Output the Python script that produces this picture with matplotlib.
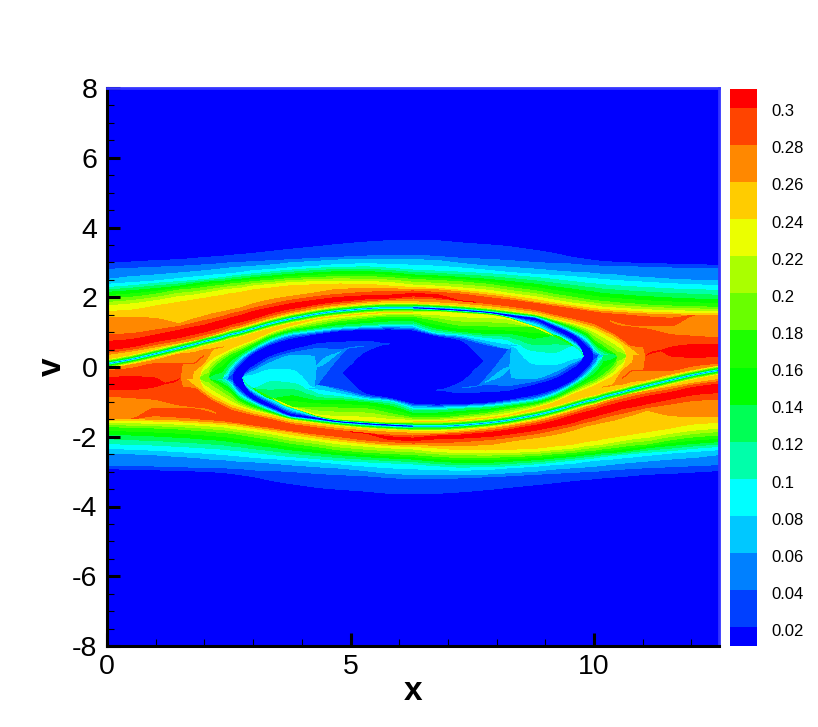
import numpy as np
import matplotlib
matplotlib.use("Agg")
import matplotlib.pyplot as plt
from matplotlib.ticker import MultipleLocator

plt.rcParams['font.family'] = ['Liberation Sans', 'DejaVu Sans']

# ---- data -----------------------------------------------------------------
PERIOD = 12.566
band_levels = [0.02, 0.04, 0.06, 0.08, 0.10, 0.12, 0.14, 0.16, 0.18, 0.20, 0.22, 0.24, 0.26, 0.28, 0.30]
band_labels = ['0.02', '0.04', '0.06', '0.08', '0.1', '0.12', '0.14', '0.16', '0.18', '0.2', '0.22', '0.24', '0.26', '0.28', '0.3']
band_colors = ['#0000ff', '#0040ff', '#0080ff', '#00c8ff', '#00ffff', '#00ffaa', '#00ff55', '#00ff00',
               '#1eff00', '#69ff00', '#aaff00', '#ebff00', '#ffcc00', '#ff8800', '#ff4400', '#ff0000']

# x stations of the left half (the right half is its point reflection)
x_stations = [0, .5, 1, 1.5, 1.77, 2.0, 2.21, 2.40, 2.53, 2.70, 3.0, 3.40, 3.80, 4.30, 4.80, 5.30, 5.80, 6.283]

# thin separatrix line: centre height at each station
line_v = [.09, .22, .38, .55, .64, .73, .80, .87, .93, .98, 1.10, 1.26, 1.39, 1.52, 1.61, 1.67, 1.70, 1.70]
line_f = [.24, .14, .018, .14, .24]
line_dv = [.143, .057, 0, -.057, -.143]

_ = None  # "same height as the row above" (feature not present at that station)

upper_f = [.02, .04, .06, .08, .10, .14, .18, .22, .24, .26, .28, .30, .31, .30, .28, .26]
upper_v = [
    [2.97, 3.01, 3.05, 3.08, 3.11, 3.14, 3.16, 3.18, 3.20, 3.22, 3.26, 3.32, 3.38, 3.45, 3.52, 3.58, 3.62, 3.64],
    [2.80, 2.83, 2.86, 2.89, 2.91, 2.93, 2.95, 2.97, 2.99, 3.00, 3.02, 3.05, 3.08, 3.12, 3.15, 3.18, 3.20, 3.21],
    [2.51, 2.59, 2.64, 2.70, 2.73, 2.76, 2.79, 2.82, 2.84, 2.86, 2.89, 2.93, 2.99, 3.03, 3.07, 3.08, 3.08, 3.08],
    [2.37, 2.42, 2.47, 2.54, 2.58, 2.61, 2.64, 2.66, 2.68, 2.70, 2.76, 2.80, 2.85, 2.89, 2.94, 2.96, 2.94, 2.92],
    [2.28, 2.33, 2.40, 2.45, 2.48, 2.51, 2.54, 2.57, 2.60, 2.63, 2.67, 2.73, 2.78, 2.83, 2.86, 2.87, 2.83, 2.78],
    [2.14, 2.19, 2.25, 2.32, 2.38, 2.42, 2.45, 2.46, 2.49, 2.51, 2.56, 2.61, 2.66, 2.70, 2.73, 2.73, 2.70, 2.64],
    [1.95, 2.00, 2.09, 2.21, 2.24, 2.28, 2.32, 2.35, 2.38, 2.40, 2.45, 2.49, 2.54, 2.57, 2.59, 2.59, 2.56, 2.51],
    [1.75, 1.81, 1.90, 2.02, 2.06, 2.11, 2.16, 2.21, 2.23, 2.25, 2.32, 2.37, 2.42, 2.45, 2.46, 2.45, 2.42, 2.35],
    [1.59, 1.63, 1.75, 1.86, 1.92, 1.97, 2.02, 2.06, 2.10, 2.13, 2.21, 2.27, 2.33, 2.36, 2.38, 2.37, 2.32, 2.28],
    [1.42, 1.42, 1.39, 1.25, 1.37, 1.46, 1.54, 1.59, 1.63, 1.68, 1.81, 1.94, 2.03, 2.13, 2.23, 2.25, 2.24, 2.23],
    [.92, .96, 1.06, 1.17, 1.25, 1.33, 1.39, 1.46, 1.52, 1.57, 1.68, 1.81, 1.92, 2.02, 2.09, 2.14, 2.17, 2.18],
    [.73, .79, .92, 1.06, 1.14, 1.20, 1.28, 1.35, 1.40, 1.46, 1.59, 1.71, 1.82, 1.92, 2.00, 2.04, 2.06, 2.11],
    [.61, .70, .80, .95, 1.03, 1.11, 1.18, 1.25, 1.31, 1.37, 1.49, 1.63, 1.75, 1.86, 1.94, 1.99, 2.02, 2.08],
    [.49, .58, .73, .85, .94, 1.01, 1.09, 1.16, 1.22, 1.28, 1.39, 1.56, 1.68, 1.80, 1.89, 1.95, 1.98, 2.04],
    [.42, .51, .65, .77, .85, .93, 1.00, 1.08, 1.15, 1.20, 1.33, 1.49, 1.62, 1.75, 1.84, 1.90, 1.94, 1.98],
    [.36, .46, .58, .70, .77, .85, .94, 1.02, 1.08, 1.14, 1.27, 1.43, 1.57, 1.69, 1.79, 1.86, 1.90, 1.90],
]

# below the line: plateau, rim of the eye, spiral arm, tongue, core, lower arm, lower ridge
inner_f = [.26, .28, .30, .31, .30, .28, .26, .24, .18, .12, .06, .02, .005,
           .02, .04, .06, .08, .10, .06, .04, .02, .005,
           .02, .03, .06, .10, .14, .18, .22, .24, .12, .02, .01,
           .02, .10, .18, .24, .26, .28, .30, .31, .30,
           .28, .27, .28, .29, .28]
inner_v = [
    [-.06, .06, .20, .37, .41, .49, .53, .58, .63, .73, .87, 1.08, 1.23, 1.38, 1.47, 1.53, 1.56, 1.56],
    [-.11, -.04, .09, .09, .11, .34] + [_] * 12,
    [-.30, -.28, -.32, -.32] + [_] * 14,
    [-.47, -.47, -.49, -.32] + [_] * 14,
    [-.64, -.64, -.56, -.32] + [_] * 14,
    [_] * 18,
    [_] * 4 + [-.13, .15] + [_] * 12,
    [_] * 4 + [-.32, .06, .30, .44, .53, .63, .79, 1.03, 1.20] + [_] * 5,
    [_] * 5 + [-.32, .03, .25, .37, .47, .68, .94, 1.10, 1.21, 1.33, 1.40, 1.46, 1.46],
    [_] * 6 + [-.32, -.18, .06, .28, .55, .84, 1.00, 1.10, 1.17, 1.21, 1.25, 1.26],
    [_] * 7 + [-.32, -.13, .15, .47, .75, .92, 1.01, 1.09, 1.13, 1.15, 1.14],
    [_] * 8 + [-.32, .03, .40, .67, .83, .95, 1.04, 1.08, 1.09, 1.06],
    [_] * 9 + [-.13, .23, .53, .68, .82, .92, .98, 1.02, 1.04],
    [_] * 9 + [-.32, .01, .32, .49, .66, .71, .74, .66, .66],
    [_] * 10 + [-.07, .25, .41, .53, .50, .60, _, _],
    [_] * 10 + [-.13, .15, .33, .01, .44, _, _, _],
    [_] * 10 + [-.23, -.07, -.09, _, _, _, _, _],
    [_] * 10 + [-.61, -.42, -.47, _, _, _, _, _],
    [_] * 18,
    [_] * 13 + [-.52, .34, _, _, _],
    [_] * 13 + [-.53, -.18, .44, _, _],
    [_] * 15 + [-.09, .00, .01],
    [_] * 15 + [-.77, -.90, -1.06],
    [_] * 14 + [-.62, -.81, -.92, -1.08],
    [_] * 13 + [-.54, -.70, -.87, -.95, -1.14],
    [_] * 13 + [-.77, -.85, -.94, -1.00, -1.22],
    [_] * 11 + [-.90, -.83, -.97, -.97, -1.02, -1.12, -1.33],
    [_] * 12 + [-1.15, -1.15, -1.18, -1.20, -1.33, -1.46],
    [_] * 13 + [-1.37, -1.42, -1.44, -1.50, -1.53],
    [_] * 14 + [-1.48, -1.52, -1.56, -1.56],
    [_] * 13 + [-1.40, -1.53, -1.58, -1.62, -1.64],
    [_] * 10 + [-.77, -1.07, -1.33, -1.44, -1.55, -1.60, -1.64, -1.68],
    [_] * 9 + [-.52, -.88, -1.16, -1.38, -1.48, -1.57, -1.62, -1.66, -1.70],
    [_] * 9 + [-.61, -.95, -1.20, -1.42, -1.51, -1.60, -1.65, -1.69, -1.72],
    [_] * 7 + [-.37, -.52, -.80, -1.04, -1.28, -1.46, -1.54, -1.62, -1.68, -1.72, -1.75],
    [_] * 6 + [-.47, -.66, -.77, -.99, -1.17, -1.35, -1.50, -1.59, -1.67, -1.73, -1.77, -1.80],
    [_] * 5 + [-.66, -.85, -.99, -1.09, -1.16, -1.28, -1.40, -1.54, -1.63, -1.71, -1.77, -1.81, -1.84],
    [_] * 4 + [-.52, -.75, -.95, -1.06, -1.16, -1.23, -1.35, -1.47, -1.60, -1.69, -1.77, -1.83, -1.87, -1.90],
    [_] * 4 + [-.61, -.82, -1.01, -1.14, -1.23, -1.30, -1.40, -1.52, -1.65, -1.75, -1.83, -1.90, -1.95, -1.98],
    [_] * 16 + [-2.00, -2.04],
    [_] * 16 + [-2.04, -2.08],
    [_] * 16 + [-2.07, -2.11],
    [-.83, -.88, -.93, -1.09, -1.14, -1.17, -1.26, -1.54, -1.57, -1.60, -1.66, -1.74, -1.83, -1.92, -2.00, -2.09, -2.14, -2.18],
    [-1.23, -1.23, -1.06, -1.14, -1.17, -1.21, -1.31] + [_] * 11,
    [-1.47, -1.48, -1.18, -1.18, -1.20, -1.26, -1.35] + [_] * 11,
    [_, _, -1.28, -1.31, -1.33, -1.38, -1.44] + [_] * 11,
    [_, _, -1.40, -1.44, -1.47, -1.50, -1.52] + [_] * 11,
]

lower_f = [.26, .24, .22, .18, .14, .10, .08, .06, .04, .02]
lower_v = [
    [-1.47, -1.48, -1.50, -1.52, -1.54, -1.56, -1.58, -1.60, -1.61, -1.64, -1.71, -1.79, -1.86, -1.98, -2.07, -2.15, -2.21, -2.23],
    [-1.52, -1.53, -1.55, -1.57, -1.60, -1.61, -1.63, -1.65, -1.67, -1.70, -1.76, -1.84, -1.94, -2.04, -2.13, -2.20, -2.25, -2.28],
    [-1.60, -1.60, -1.62, -1.64, -1.66, -1.68, -1.70, -1.72, -1.75, -1.78, -1.83, -1.92, -2.02, -2.11, -2.21, -2.27, -2.32, -2.35],
    [-1.71, -1.73, -1.75, -1.78, -1.81, -1.83, -1.86, -1.88, -1.90, -1.93, -2.00, -2.09, -2.19, -2.28, -2.38, -2.44, -2.48, -2.51],
    [-1.92, -1.95, -1.98, -2.02, -2.04, -2.07, -2.09, -2.11, -2.14, -2.17, -2.23, -2.30, -2.38, -2.45, -2.52, -2.57, -2.61, -2.64],
    [-2.19, -2.22, -2.24, -2.28, -2.30, -2.32, -2.34, -2.36, -2.38, -2.40, -2.45, -2.51, -2.57, -2.63, -2.68, -2.72, -2.75, -2.78],
    [-2.33, -2.36, -2.39, -2.43, -2.45, -2.47, -2.49, -2.51, -2.53, -2.55, -2.59, -2.63, -2.66, -2.71, -2.78, -2.84, -2.89, -2.92],
    [-2.47, -2.49, -2.52, -2.57, -2.59, -2.62, -2.65, -2.66, -2.68, -2.70, -2.72, -2.76, -2.81, -2.86, -2.90, -2.97, -3.05, -3.08],
    [-2.81, -2.82, -2.84, -2.86, -2.87, -2.87, -2.88, -2.89, -2.90, -2.91, -2.95, -2.97, -3.00, -3.05, -3.09, -3.12, -3.17, -3.21],
    [-2.92, -2.93, -2.95, -2.97, -2.98, -2.99, -3.01, -3.03, -3.05, -3.08, -3.14, -3.26, -3.35, -3.45, -3.51, -3.56, -3.62, -3.64],
]

# extra stations where some inner rows change abruptly: {x: {inner row: v}}
extra_stations = {
    1.20: {2: -.464, 3: -.464},
    1.55: {2: .10, 3: .10, 4: .10, 5: .10, 6: -.32, 37: -.32, 38: -.58, 39: -.58, 40: -.58, 41: -.58},
    4.00: {15: .34, 16: -.28, 17: -.54, 18: -.54, 19: -.54, 20: -.54, 21: -.54, 22: -.54, 23: -.54, 24: -.54, 25: -.56},
    4.05: {15: .33, 16: -.37, 17: -.58, 18: -.58, 19: -.58, 20: -.58, 21: -.58, 22: -.58, 23: -.58, 24: -.58, 25: -.62},
    4.25: {15: .30, 16: -.60, 17: -.60, 18: -.60, 19: -.60, 20: -.60, 21: -.60, 22: -.60, 23: -.60, 24: -.60, 25: -.72},
    4.95: {14: .54, 15: .54, 16: .54, 17: .54, 18: .54, 19: .54},
}

# x at which each inner row leaves the tip of the curl, and the tip's height
tip_v = -.32
tip_x = {6: 1.76, 7: 1.90, 8: 2.08, 9: 2.38, 10: 2.48, 11: 2.57, 12: 2.63,
         13: 2.80, 14: 2.80, 15: 2.80, 16: 2.80, 17: 2.80, 18: 2.80, 19: 2.80, 20: 2.80, 21: 2.80,
         22: 2.80, 23: 2.80, 24: 2.80, 25: 2.80, 26: 2.80, 27: 2.80, 28: 2.80, 29: 2.80, 30: 2.80, 31: 2.80,
         32: 2.63, 33: 2.57, 34: 2.35, 35: 2.10, 36: 1.90}

x_ticks_major = [0, 5, 10]
y_ticks_major = [-8, -6, -4, -2, 0, 2, 4, 6, 8]
y_tick_labels = ['-8', '-6', '-4', '-2', '0', '2', '4', '6', '8']


# ---- assemble the feature-following grid ----------------------------------
def pchip(xs, ys, xq):
    xs, ys = np.asarray(xs, float), np.asarray(ys, float)
    h = np.diff(xs)
    d = np.diff(ys) / h
    m = np.zeros_like(ys)
    for i in range(1, len(xs) - 1):
        if d[i - 1] * d[i] > 0:
            w1, w2 = 2 * h[i] + h[i - 1], h[i] + 2 * h[i - 1]
            m[i] = (w1 + w2) / (w1 / d[i - 1] + w2 / d[i])
    m[0], m[-1] = d[0], d[-1]
    k = np.clip(np.searchsorted(xs, xq, side='right') - 1, 0, len(xs) - 2)
    t = (xq - xs[k]) / h[k]
    return (ys[k] * (1 + 2 * t) * (1 - t) ** 2 + m[k] * h[k] * t * (1 - t) ** 2
            + ys[k + 1] * t ** 2 * (3 - 2 * t) + m[k + 1] * h[k] * t ** 2 * (t - 1))


def assemble():
    n = len(x_stations)
    fs, vs = [.005], [[8.0] * n]
    tips, first_inner = {}, None
    for f, row in zip(upper_f, upper_v):
        fs.append(f); vs.append(list(row))
    for f, dv in zip(line_f, line_dv):
        fs.append(f); vs.append([v + dv for v in line_v])
    first_inner = len(fs)
    for i, (f, row) in enumerate(zip(inner_f, inner_v)):
        fs.append(f)
        vs.append([vs[-1][j] if row[j] is None else row[j] for j in range(n)])
        if i in tip_x:
            tips[len(fs) - 1] = tip_x[i]
    for f, row in zip(lower_f, lower_v):
        fs.append(f); vs.append(list(row))
    fs.append(.005); vs.append([-8.0] * n)

    xfine = np.linspace(0, x_stations[-1], 420)
    xs0 = np.array(x_stations, float)
    xs1 = np.sort(np.r_[xs0, list(extra_stations)])
    V = np.zeros((len(fs), xfine.size))
    for r, row in enumerate(vs):
        y0 = np.array(row, float)
        y1 = np.interp(xs1, xs0, y0)
        for xe, changes in extra_stations.items():
            if r - first_inner in changes:
                y1[np.argmin(abs(xs1 - xe))] = changes[r - first_inner]
        V[r] = pchip(xs1, y1, xfine)
        if r in tips:
            xt = tips[r]
            j = np.searchsorted(xs1, xt, side='right')
            xo, yo = xs1[j], y1[j]
            V[r, (xfine > xs1[j - 1]) & (xfine <= xt)] = tip_v
            mask = (xfine > xt) & (xfine < xo)
            V[r, mask] = tip_v + (yo - tip_v) * np.sqrt((xfine[mask] - xt) / (xo - xt))
    F = np.tile(np.array(fs)[:, None], (1, xfine.size))
    X = np.tile(xfine, (len(fs), 1))
    return X, V, F


X, V, F = assemble()
levels = [-1.0] + band_levels + [1.0]

fig = plt.figure(figsize=(8.18, 7.27), dpi=100, facecolor='white')
W, H = 818.0, 727.0
ax = fig.add_axes([107 / W, 1 - 646 / H, (719 - 107) / W, (646 - 88) / H])
ax.contourf(X, V, F, levels=levels, colors=band_colors, antialiased=False)
ax.contourf(PERIOD - X, -V, F, levels=levels, colors=band_colors, antialiased=False)
ax.set_xlim(0, PERIOD)
ax.set_ylim(-8, 8)
ax.set_xticks(x_ticks_major)
ax.set_yticks(y_ticks_major)
ax.set_yticklabels(y_tick_labels)
ax.xaxis.set_minor_locator(MultipleLocator(1))
ax.yaxis.set_minor_locator(MultipleLocator(0.5))
ax.tick_params(which='major', direction='in', length=9.5, width=2.2, labelsize=20.5, color='black')
ax.tick_params(which='minor', direction='in', length=5, width=0.8, color='black')
ax.tick_params(axis='x', which='major', pad=6)
ax.tick_params(axis='y', which='major', pad=7)
ax.tick_params(top=False, right=False, which='both')
for name in ('left', 'bottom'):
    ax.spines[name].set_linewidth(2.2)
    ax.spines[name].set_color('black')
for name in ('top', 'right'):
    ax.spines[name].set_linewidth(2.0)
    ax.spines[name].set_color('#3333ff')
ax.set_xlabel('x', fontsize=24, fontweight='bold', labelpad=-3)
ax.set_ylabel('v', fontsize=24, fontweight='bold', labelpad=3)

cax = fig.add_axes([730 / W, 1 - 646 / H, 27 / W, (646 - 89) / H])
edges = [band_levels[0] - .01] + band_levels + [band_levels[-1] + .01]
for i, col in enumerate(band_colors):
    cax.axhspan(edges[i], edges[i + 1], color=col, lw=0)
cax.set_xlim(0, 1)
cax.set_ylim(edges[0], edges[-1])
cax.set_xticks([])
cax.set_yticks([])
for level, label in zip(band_levels, band_labels):
    cax.annotate(label, (1, level), xycoords=('axes fraction', 'data'), xytext=(10, -3),
                 textcoords='offset points', va='center', ha='left', fontsize=12)
for s in cax.spines.values():
    s.set_visible(False)

fig.savefig('out.png', dpi=100, facecolor='white')
